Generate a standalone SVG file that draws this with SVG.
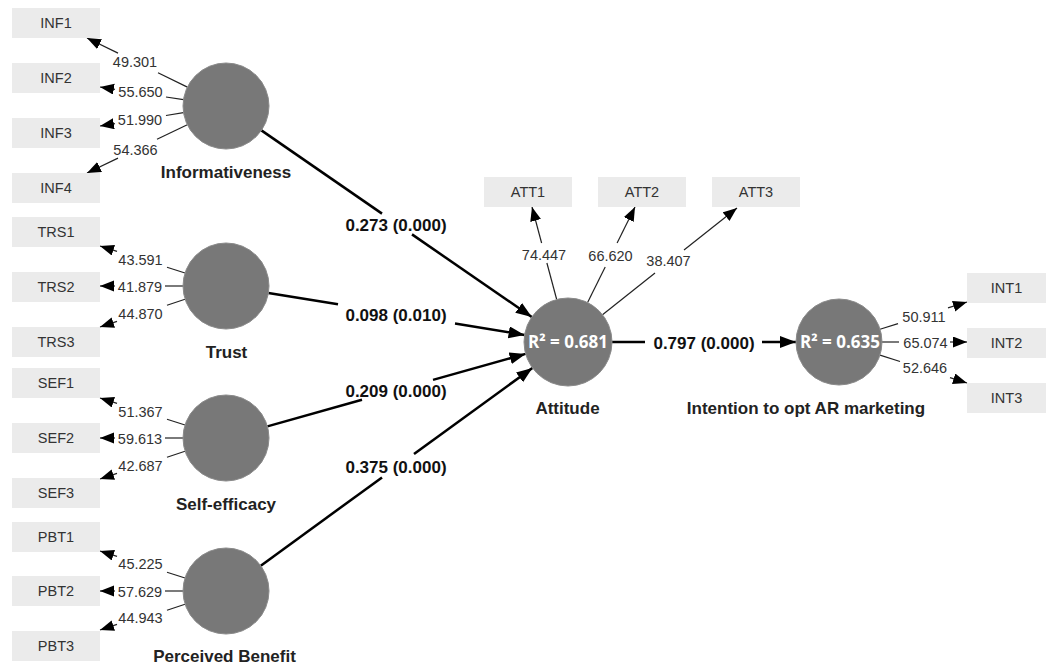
<svg xmlns="http://www.w3.org/2000/svg" width="1047" height="665" viewBox="0 0 1047 665">
<style>
.box{fill:#ebebeb}
.bt{font-family:"Liberation Sans",Arial,sans-serif;font-size:14.5px;fill:#333;text-anchor:middle}
.ld{font-family:"Liberation Sans",Arial,sans-serif;font-size:14.5px;fill:#333;text-anchor:middle}
.cn{font-family:"Liberation Sans",Arial,sans-serif;font-size:17px;font-weight:bold;fill:#222;text-anchor:middle}
.pc{font-family:"Liberation Sans",Arial,sans-serif;font-size:17px;font-weight:bold;fill:#111;text-anchor:middle}
.r2{font-family:"Open Sans","Liberation Sans",sans-serif;font-size:17px;font-weight:bold;fill:#fff;text-anchor:middle}
.lv{fill:#787878;stroke:#8a8a8a;stroke-width:1}
.thin{stroke:#222;stroke-width:1.2;fill:none}
.thick{stroke:#000;stroke-width:2.5;fill:none}
.ta{marker-end:url(#at)}
.ka{marker-end:url(#ak)}
</style>
<defs>
<marker id="at" markerUnits="userSpaceOnUse" markerWidth="15" markerHeight="12" refX="14" refY="5.5" orient="auto"><path d="M0,0 L14,5.5 L0,11 z" fill="#000"/></marker>
<marker id="ak" markerUnits="userSpaceOnUse" markerWidth="17" markerHeight="13" refX="16" refY="6" orient="auto"><path d="M0,0 L16,6 L0,12 z" fill="#000"/></marker>
</defs>
<rect width="1047" height="665" fill="#fff"/>

<g id="connectors">
<line class="thick" x1="261.4" y1="130.4" x2="382" y2="213.6"/>
<line class="thick ka" x1="412" y1="234.4" x2="531.8" y2="317"/>
<line class="thick" x1="268.4" y1="293" x2="338" y2="304.3"/>
<line class="thick ka" x1="455" y1="323.5" x2="524.6" y2="334.9"/>
<line class="thick" x1="267.4" y1="426.4" x2="362" y2="399.8"/>
<line class="thick ka" x1="433" y1="379.9" x2="525.6" y2="353.9"/>
<line class="thick" x1="260.8" y1="565.7" x2="382" y2="477.4"/>
<line class="thick ka" x1="414" y1="454.1" x2="532.4" y2="367.9"/>
<line class="thick" x1="612" y1="342" x2="645" y2="342"/>
<line class="thick ka" x1="762" y1="342" x2="796" y2="342"/>
<line class="thin" x1="187.4" y1="87.1" x2="158" y2="72.7"/>
<line class="thin ta" x1="118" y1="53.1" x2="87" y2="38"/>
<line class="thin" x1="183.5" y1="99.6" x2="166" y2="97"/>
<line class="thin ta" x1="115" y1="89.3" x2="100" y2="87"/>
<line class="thin" x1="183.5" y1="112.7" x2="166" y2="115.5"/>
<line class="thin ta" x1="115" y1="123.6" x2="100" y2="126"/>
<line class="thin" x1="187.3" y1="124.7" x2="157" y2="139.3"/>
<line class="thin ta" x1="118" y1="158.1" x2="87" y2="173"/>
<line class="thin" x1="185" y1="273" x2="167" y2="267.3"/>
<line class="thin ta" x1="117" y1="251.4" x2="100" y2="246"/>
<line class="thin" x1="183" y1="286" x2="165" y2="286"/>
<line class="thin ta" x1="115" y1="286" x2="100" y2="286"/>
<line class="thin" x1="185" y1="299.3" x2="167" y2="305.2"/>
<line class="thin ta" x1="117" y1="321.4" x2="100" y2="327"/>
<line class="thin" x1="185" y1="425" x2="167" y2="419.3"/>
<line class="thin ta" x1="117" y1="403.4" x2="100" y2="398"/>
<line class="thin" x1="183" y1="438" x2="165" y2="438"/>
<line class="thin ta" x1="115" y1="438" x2="100" y2="438"/>
<line class="thin" x1="185" y1="451.3" x2="167" y2="457.2"/>
<line class="thin ta" x1="117" y1="473.4" x2="100" y2="479"/>
<line class="thin" x1="185" y1="578" x2="167" y2="572.3"/>
<line class="thin ta" x1="117" y1="556.4" x2="100" y2="551"/>
<line class="thin" x1="183" y1="591" x2="165" y2="591"/>
<line class="thin ta" x1="115" y1="591" x2="100" y2="591"/>
<line class="thin" x1="185" y1="604.3" x2="167" y2="610.2"/>
<line class="thin ta" x1="117" y1="624.4" x2="100" y2="630"/>
<line class="thin" x1="556.7" y1="299.5" x2="546.9" y2="263"/>
<line class="thin ta" x1="541.6" y1="243" x2="532" y2="207"/>
<line class="thin" x1="587.6" y1="302.6" x2="605.2" y2="267"/>
<line class="thin ta" x1="617.1" y1="243" x2="635" y2="207"/>
<line class="thin" x1="602.5" y1="314.7" x2="655" y2="273"/>
<line class="thin ta" x1="684" y1="250" x2="737" y2="208"/>
<line class="thin" x1="880" y1="329.2" x2="898" y2="323.6"/>
<line class="thin ta" x1="948" y1="307.9" x2="967" y2="302"/>
<line class="thin" x1="882" y1="342" x2="899" y2="342"/>
<line class="thin ta" x1="950" y1="342" x2="967" y2="342"/>
<line class="thin" x1="880" y1="355.1" x2="900" y2="361.5"/>
<line class="thin ta" x1="950" y1="377.6" x2="967" y2="383"/>
</g>

<g id="connector-labels">
<text class="ld" x="135" y="67">49.301</text>
<text class="ld" x="140.5" y="97">55.650</text>
<text class="ld" x="140" y="125">51.990</text>
<text class="ld" x="135.5" y="155">54.366</text>
<text class="ld" x="140.5" y="265">43.591</text>
<text class="ld" x="140" y="292">41.879</text>
<text class="ld" x="140.5" y="319">44.870</text>
<text class="ld" x="140.5" y="417">51.367</text>
<text class="ld" x="140" y="444">59.613</text>
<text class="ld" x="140.5" y="471">42.687</text>
<text class="ld" x="140.5" y="569">45.225</text>
<text class="ld" x="140" y="597">57.629</text>
<text class="ld" x="140.5" y="623">44.943</text>
<text class="ld" x="544" y="260">74.447</text>
<text class="ld" x="610.5" y="261">66.620</text>
<text class="ld" x="668.5" y="266">38.407</text>
<text class="ld" x="924" y="322">50.911</text>
<text class="ld" x="925.5" y="348">65.074</text>
<text class="ld" x="925" y="373">52.646</text>
<text class="pc" x="396" y="231">0.273 (0.000)</text>
<text class="pc" x="396" y="321">0.098 (0.010)</text>
<text class="pc" x="396" y="397">0.209 (0.000)</text>
<text class="pc" x="396" y="473">0.375 (0.000)</text>
<text class="pc" x="704" y="349">0.797 (0.000)</text>
</g>

<g id="INF1"><rect class="box" x="12" y="8" width="88" height="30"/><text class="bt" x="56" y="28">INF1</text></g>
<g id="INF2"><rect class="box" x="12" y="63" width="88" height="30"/><text class="bt" x="56" y="83">INF2</text></g>
<g id="INF3"><rect class="box" x="12" y="118" width="88" height="30"/><text class="bt" x="56" y="138">INF3</text></g>
<g id="INF4"><rect class="box" x="12" y="173" width="88" height="30"/><text class="bt" x="56" y="193">INF4</text></g>
<g id="TRS1"><rect class="box" x="12" y="217" width="88" height="30"/><text class="bt" x="56" y="237">TRS1</text></g>
<g id="TRS2"><rect class="box" x="12" y="272" width="88" height="30"/><text class="bt" x="56" y="292">TRS2</text></g>
<g id="TRS3"><rect class="box" x="12" y="327" width="88" height="30"/><text class="bt" x="56" y="347">TRS3</text></g>
<g id="SEF1"><rect class="box" x="12" y="368" width="88" height="30"/><text class="bt" x="56" y="388">SEF1</text></g>
<g id="SEF2"><rect class="box" x="12" y="423" width="88" height="30"/><text class="bt" x="56" y="443">SEF2</text></g>
<g id="SEF3"><rect class="box" x="12" y="478" width="88" height="30"/><text class="bt" x="56" y="498">SEF3</text></g>
<g id="PBT1"><rect class="box" x="12" y="522" width="88" height="30"/><text class="bt" x="56" y="542">PBT1</text></g>
<g id="PBT2"><rect class="box" x="12" y="576" width="88" height="30"/><text class="bt" x="56" y="596">PBT2</text></g>
<g id="PBT3"><rect class="box" x="12" y="631" width="88" height="30"/><text class="bt" x="56" y="651">PBT3</text></g>
<g id="ATT1"><rect class="box" x="484" y="177" width="88" height="30"/><text class="bt" x="528" y="197">ATT1</text></g>
<g id="ATT2"><rect class="box" x="598" y="177" width="88" height="30"/><text class="bt" x="642" y="197">ATT2</text></g>
<g id="ATT3"><rect class="box" x="712" y="177" width="88" height="30"/><text class="bt" x="756" y="197">ATT3</text></g>
<g id="INT1"><rect class="box" x="967" y="273" width="79" height="30"/><text class="bt" x="1006.5" y="293">INT1</text></g>
<g id="INT2"><rect class="box" x="967" y="328" width="79" height="30"/><text class="bt" x="1006.5" y="348">INT2</text></g>
<g id="INT3"><rect class="box" x="967" y="383" width="79" height="30"/><text class="bt" x="1006.5" y="403">INT3</text></g>

<g id="Informativeness"><circle class="lv" cx="226" cy="106" r="43"/><text class="cn" x="226" y="178">Informativeness</text></g>
<g id="Trust"><circle class="lv" cx="226" cy="286" r="43"/><text class="cn" x="226.5" y="358">Trust</text></g>
<g id="Self-efficacy"><circle class="lv" cx="226" cy="438" r="43"/><text class="cn" x="226" y="510">Self-efficacy</text></g>
<g id="PerceivedBenefit"><circle class="lv" cx="226" cy="591" r="43"/><text class="cn" x="224.5" y="662">Perceived Benefit</text></g>
<g id="Attitude"><circle class="lv" cx="568" cy="342" r="44"/><text class="r2" x="568" y="348">R² = 0.681</text><text class="cn" x="567.5" y="414">Attitude</text></g>
<g id="Intention"><circle class="lv" cx="839" cy="342" r="43"/><text class="r2" x="840" y="348">R² = 0.635</text><text class="cn" x="806" y="414">Intention to opt AR marketing</text></g>
</svg>
